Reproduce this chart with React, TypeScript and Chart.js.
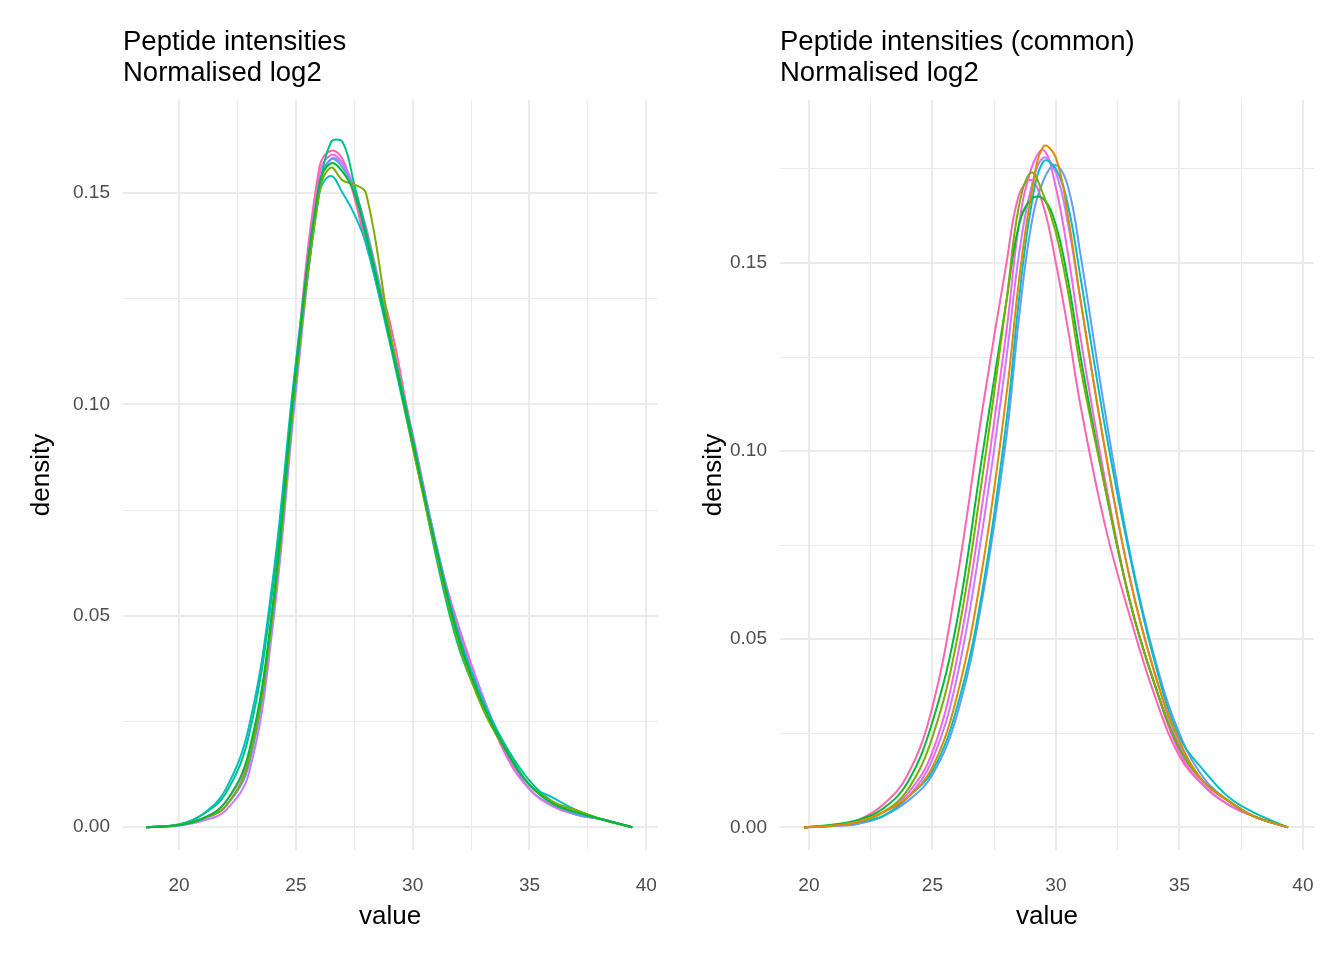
import React, { useEffect, useRef } from "react";
import { Chart, registerables } from "chart.js";
Chart.register(...registerables);

const leftX = [18.6, 20, 21, 22, 23, 24, 25, 26, 26.5, 27, 27.5, 28, 29, 30, 31, 32, 33, 34, 35, 36, 37, 38, 39.4];
const leftSeries: number[][] = [
  [0, 0.0005, 0.002, 0.006, 0.018, 0.052, 0.108, 0.152, 0.157, 0.155, 0.150, 0.140, 0.116, 0.091, 0.066, 0.044, 0.029, 0.018, 0.010, 0.0055, 0.0035, 0.002, 0],
  [0, 0.0005, 0.002, 0.005, 0.016, 0.050, 0.106, 0.150, 0.156, 0.153, 0.152, 0.150, 0.118, 0.090, 0.065, 0.043, 0.028, 0.018, 0.010, 0.006, 0.004, 0.002, 0],
  [0, 0.0006, 0.003, 0.008, 0.022, 0.056, 0.108, 0.150, 0.162, 0.162, 0.152, 0.141, 0.117, 0.092, 0.064, 0.042, 0.029, 0.019, 0.011, 0.006, 0.004, 0.002, 0],
  [0, 0.0007, 0.003, 0.009, 0.024, 0.058, 0.110, 0.150, 0.154, 0.150, 0.145, 0.138, 0.115, 0.090, 0.066, 0.045, 0.030, 0.019, 0.010, 0.007, 0.004, 0.002, 0],
  [0, 0.0004, 0.002, 0.005, 0.015, 0.050, 0.105, 0.152, 0.158, 0.156, 0.150, 0.140, 0.116, 0.092, 0.067, 0.045, 0.030, 0.018, 0.010, 0.006, 0.003, 0.002, 0],
  [0, 0.0004, 0.0015, 0.004, 0.013, 0.047, 0.103, 0.151, 0.158, 0.157, 0.151, 0.142, 0.118, 0.091, 0.066, 0.046, 0.031, 0.018, 0.009, 0.005, 0.003, 0.002, 0],
  [0, 0.0005, 0.002, 0.006, 0.017, 0.051, 0.108, 0.154, 0.159, 0.157, 0.150, 0.139, 0.117, 0.093, 0.067, 0.046, 0.030, 0.017, 0.009, 0.005, 0.003, 0.002, 0],
  [0, 0.0005, 0.002, 0.005, 0.016, 0.051, 0.109, 0.156, 0.160, 0.158, 0.149, 0.138, 0.120, 0.092, 0.066, 0.047, 0.031, 0.017, 0.009, 0.005, 0.003, 0.002, 0],
];
const leftColors = ["#00BA38", "#7CAE00", "#00C08B", "#00BFC4", "#619CFF", "#C77CFF", "#F564E3", "#FF64B0"];

const rightX = [19.8, 21, 22, 23, 24, 25, 26, 27, 28, 28.5, 29, 29.5, 30, 30.5, 31, 32, 33, 34, 35, 36, 37, 38, 39.4];
const rightSeries: number[][] = [
  [0, 0.0005, 0.0015, 0.004, 0.008, 0.016, 0.035, 0.068, 0.115, 0.145, 0.168, 0.181, 0.178, 0.162, 0.140, 0.100, 0.066, 0.041, 0.023, 0.012, 0.007, 0.003, 0],
  [0, 0.0005, 0.0015, 0.004, 0.010, 0.024, 0.050, 0.092, 0.140, 0.165, 0.174, 0.168, 0.158, 0.142, 0.122, 0.090, 0.060, 0.038, 0.021, 0.012, 0.007, 0.003, 0],
  [0, 0.0008, 0.002, 0.005, 0.012, 0.028, 0.055, 0.098, 0.140, 0.160, 0.167, 0.167, 0.160, 0.145, 0.125, 0.090, 0.060, 0.038, 0.021, 0.012, 0.007, 0.003, 0],
  [0, 0.0005, 0.0015, 0.003, 0.008, 0.015, 0.032, 0.062, 0.108, 0.140, 0.165, 0.177, 0.175, 0.165, 0.146, 0.106, 0.072, 0.044, 0.024, 0.015, 0.008, 0.004, 0],
  [0, 0.0004, 0.001, 0.003, 0.007, 0.014, 0.030, 0.060, 0.104, 0.135, 0.160, 0.172, 0.176, 0.170, 0.152, 0.110, 0.073, 0.045, 0.025, 0.013, 0.007, 0.003, 0],
  [0, 0.0004, 0.001, 0.003, 0.008, 0.018, 0.040, 0.078, 0.125, 0.152, 0.170, 0.178, 0.174, 0.160, 0.140, 0.100, 0.066, 0.041, 0.022, 0.012, 0.007, 0.003, 0],
  [0, 0.0005, 0.0015, 0.004, 0.009, 0.020, 0.045, 0.085, 0.132, 0.160, 0.175, 0.180, 0.170, 0.152, 0.130, 0.092, 0.060, 0.038, 0.020, 0.011, 0.006, 0.003, 0],
  [0, 0.0006, 0.002, 0.006, 0.014, 0.032, 0.066, 0.110, 0.150, 0.168, 0.172, 0.165, 0.150, 0.132, 0.112, 0.080, 0.056, 0.035, 0.019, 0.011, 0.006, 0.003, 0],
];
const rightColors = ["#DE8C00", "#7CAE00", "#00BA38", "#00BFC4", "#619CFF", "#C77CFF", "#F564E3", "#FF64B0"];

function makeChart(canvas: HTMLCanvasElement, xs: number[], series: number[][], colors: string[], xmin: number, xmax: number, ymin: number, ymax: number, yWidth: number, padR: number) {
  return new Chart(canvas, {
    type: "line",
    data: {
      datasets: series.map((s, i) => ({
        data: s.map((y, j) => ({ x: xs[j], y })),
        borderColor: colors[i % colors.length],
        borderWidth: 2,
        pointRadius: 0,
        tension: 0.4,
        fill: false,
      })),
    },
    options: {
      animation: false,
      responsive: false,
      layout: { padding: { left: 22, right: padR, top: 100, bottom: 24 } },
      plugins: { legend: { display: false }, tooltip: { enabled: false } },
      scales: {
        x: {
          type: "linear",
          min: xmin,
          max: xmax,
          afterBuildTicks: (s: any) => {
            s.ticks = [20, 22.5, 25, 27.5, 30, 32.5, 35, 37.5, 40].filter((v) => v >= xmin && v <= xmax + 0.01).map((v) => ({ value: v }));
          },
          afterFit: (s: any) => { s.height = 86; },
          border: { display: false },
          grid: {
            color: "#ebebeb",
            lineWidth: (c: any) => (c.tick && c.tick.value % 5 === 0 ? 2 : 1),
            drawTicks: false,
          },
          ticks: {
            color: "#4d4d4d",
            font: { size: 19, family: "Liberation Sans" },
            padding: 24,
            maxRotation: 0,
            callback: (v: any) => (v % 5 === 0 ? String(v) : ""),
          },
          title: { display: true, text: "value", color: "#000", font: { size: 26, family: "Liberation Sans" }, padding: { top: 8 } },
        },
        y: {
          min: ymin,
          max: ymax,
          afterBuildTicks: (s: any) => {
            const t = [];
            for (let i = 0; i <= 7; i++) { const v = i * 0.025; if (v <= ymax) t.push({ value: v }); }
            s.ticks = t;
          },
          afterFit: (s: any) => { s.width = yWidth; },
          border: { display: false },
          grid: {
            color: "#ebebeb",
            lineWidth: (c: any) => (c.tick && Math.round(c.tick.value * 1000) % 50 === 0 ? 2 : 1),
            drawTicks: false,
          },
          ticks: {
            color: "#4d4d4d",
            font: { size: 19, family: "Liberation Sans" },
            padding: 13,
            callback: (v: any) => (Math.round(v * 1000) % 50 === 0 ? Number(v).toFixed(2) : ""),
          },
          title: { display: true, text: "density", color: "#000", font: { size: 26, family: "Liberation Sans" }, padding: { bottom: 4 } },
        },
      },
    },
  });
}

export default function App() {
  const l = useRef<HTMLCanvasElement>(null);
  const r = useRef<HTMLCanvasElement>(null);
  useEffect(() => {
    const a = makeChart(l.current!, leftX, leftSeries, leftColors, 17.6, 40.47, -0.0054, 0.172, 101, 6);
    const b = makeChart(r.current!, rightX, rightSeries, rightColors, 18.83, 40.45, -0.006, 0.1933, 86, 30);
    return () => { a.destroy(); b.destroy(); };
  }, []);
  const titleStyle: React.CSSProperties = { position: "absolute", top: 25, fontFamily: "Liberation Sans", fontSize: 27.5, lineHeight: "31px", color: "#000" };
  return (
    <div style={{ position: "fixed", left: 0, top: 0, width: 1344, height: 960, background: "#fff" }}>
      <canvas ref={l} width={681} height={960} style={{ position: "absolute", left: 0, top: 0 }} />
      <canvas ref={r} width={672} height={960} style={{ position: "absolute", left: 672, top: 0 }} />
      <div style={{ ...titleStyle, left: 123 }}>Peptide intensities<br />Normalised log2</div>
      <div style={{ ...titleStyle, left: 780 }}>Peptide intensities (common)<br />Normalised log2</div>
    </div>
  );
}
